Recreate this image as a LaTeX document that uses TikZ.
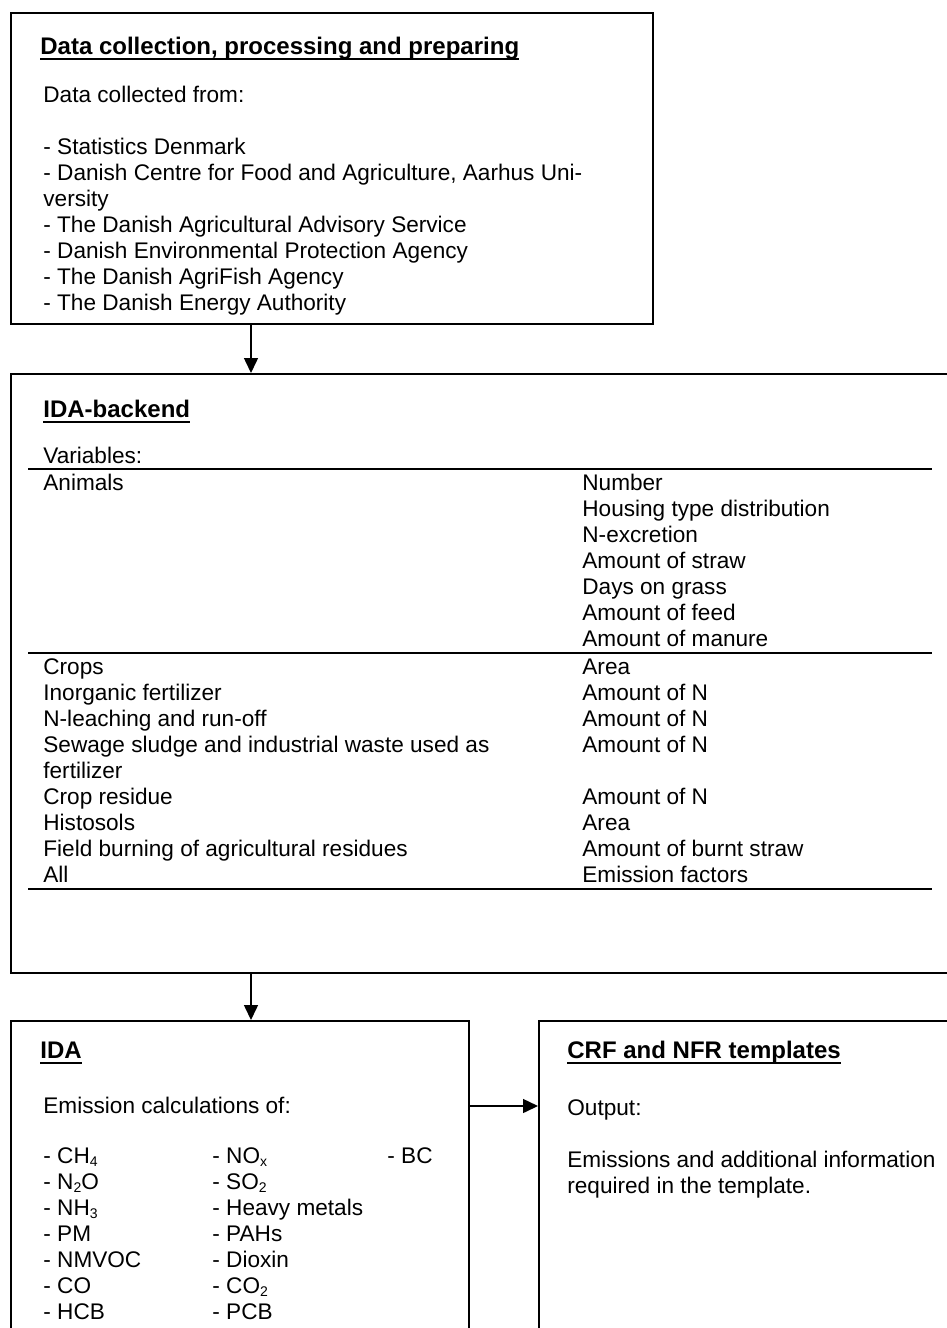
\documentclass[tikz,border=0pt]{standalone}
\usepackage{fontspec}
\setmainfont{Liberation Sans}
\usetikzlibrary{arrows.meta}

\newsavebox\headbox
\newcommand{\headline}[1]{\sbox\headbox{\fontsize{12pt}{13pt}\selectfont\bfseries #1}\usebox\headbox\llap{\rule[-3.2pt]{\wd\headbox}{1pt}}}
\newcommand{\chemsub}[1]{\raisebox{-0.3ex}{\fontsize{7pt}{7pt}\selectfont #1}}

\tikzset{
  box/.style={draw,line width=0.75pt,anchor=north west,inner sep=0pt},
  txt/.style={anchor=base west,inner sep=0pt,font=\fontsize{11.3pt}{13pt}\selectfont},
  rowrule/.style={line width=1pt},
  flow/.style={-{Triangle[length=7.5pt,width=7pt]},line width=0.75pt},
}

\begin{document}
\begin{tikzpicture}[x=0.5pt,y=-0.5pt]
  \useasboundingbox (0,0) rectangle (947,1328);
  \clip (0,0) rectangle (947,1328);

  % boxes
  \node[box,minimum width=321pt,minimum height=155.5pt] (collect) at (10,12) {};
  \node[box,minimum width=475pt,minimum height=299.5pt] (backend) at (10,373) {};
  \node[box,minimum width=229pt,minimum height=160pt] (ida) at (10,1020) {};
  \node[box,minimum width=211pt,minimum height=160pt] (crf) at (538,1020) {};

  % data collection
  \node[txt] (collecthead) at (40,54) {\headline{Data collection, processing and preparing}};
  \node[txt] (collectintro) at (43,102) {Data collected from:};
  \foreach \s [count=\i from 0] in {- Statistics Denmark,
      {- Danish Centre for Food and Agriculture, Aarhus Uni-}, versity,
      - The Danish Agricultural Advisory Service,
      - Danish Environmental Protection Agency,
      - The Danish AgriFish Agency, - The Danish Energy Authority}
    \node[txt] (src\i) at (43,154+26*\i) {\s};

  % IDA-backend
  \node[txt] (backendhead) at (43,417) {\headline{IDA-backend}};
  \node[txt] (varintro) at (43,463) {Variables:};
  \node[txt] (animals) at (43,490) {Animals};
  \foreach \v [count=\i from 0] in {Number, Housing type distribution,
      N-excretion, Amount of straw, Days on grass, Amount of feed,
      Amount of manure}
    \node[txt] (animvar\i) at (582,490+26*\i) {\v};
  \foreach \c [count=\i from 0] in {Crops, Inorganic fertilizer,
      N-leaching and run-off, Sewage sludge and industrial waste used as,
      fertilizer, Crop residue, Histosols,
      Field burning of agricultural residues, All}
    \node[txt] (cat\i) at (43,674+26*\i) {\c};
  \foreach \v/\k in {Area/0, Amount of N/1, Amount of N/2, Amount of N/3,
      Amount of N/5, Area/6, Amount of burnt straw/7, Emission factors/8}
    \node[txt] (catvar\k) at (582,674+26*\k) {\v};
  \foreach \y in {469,653,889}
    \draw[rowrule] (28,\y) -- (932,\y);

  % IDA
  \node[txt] (idahead) at (40,1058) {\headline{IDA}};
  \node[txt] (calcintro) at (43,1113) {Emission calculations of:};
  \foreach \g [count=\i from 0] in {- CH\chemsub{4}, - N\chemsub{2}O,
      - NH\chemsub{3}, - PM, - NMVOC, - CO, - HCB}
    \node[txt] (gasa\i) at (43,1163+26*\i) {\g};
  \foreach \g [count=\i from 0] in {- NO\chemsub{x}, - SO\chemsub{2},
      - Heavy metals, - PAHs, - Dioxin, - CO\chemsub{2}, - PCB}
    \node[txt] (gasb\i) at (212,1163+26*\i) {\g};
  \node[txt] (gasc0) at (387,1163) {- BC};

  % CRF and NFR
  \node[txt] (crfhead) at (567,1058) {\headline{CRF and NFR templates}};
  \node[txt] (outintro) at (567,1115) {Output:};
  \node[txt] (out0) at (567,1167) {Emissions and additional information};
  \node[txt] (out1) at (567,1193) {required in the template.};

  % flow
  \coordinate (drop) at (251,0);
  \coordinate (handoff) at (0,1106);
  \draw[flow] (collect.south -| drop) -- (backend.north -| drop);
  \draw[flow] (backend.south -| drop) -- (ida.north -| drop);
  \draw[flow] (ida.east |- handoff) -- (crf.west |- handoff);
\end{tikzpicture}
\end{document}
